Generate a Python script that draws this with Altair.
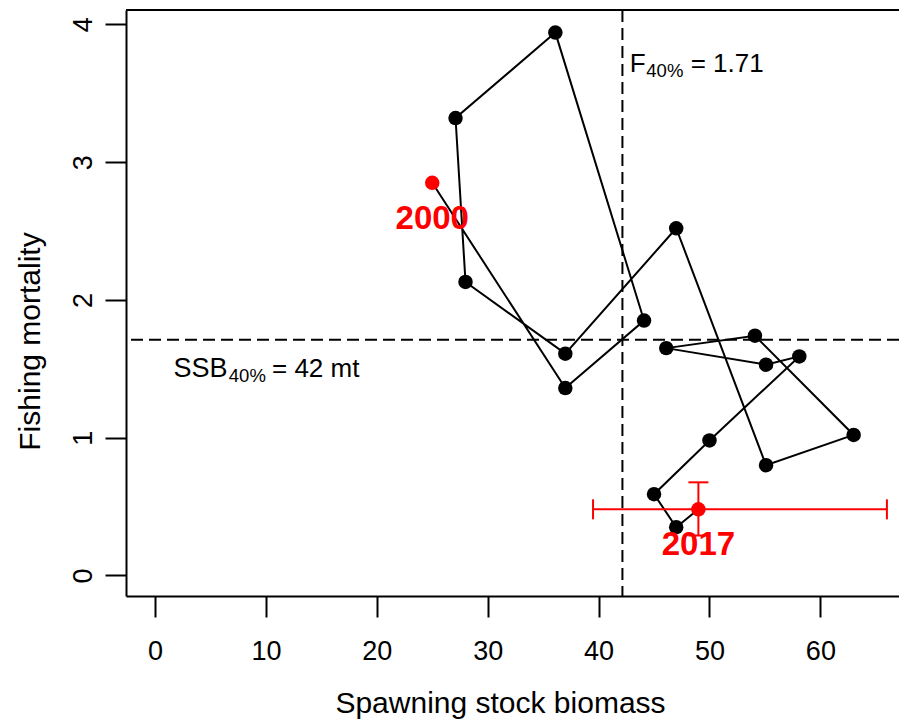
import altair as alt
import pandas as pd

# ---- data ----
years = list(range(2000, 2018))
ssb = [25.0, 37.0, 44.1, 36.1, 27.1, 28.0, 37.0, 47.0, 55.1, 63.0,
       54.1, 46.1, 55.1, 58.1, 50.0, 45.0, 47.0, 49.0]
fmort = [2.85, 1.36, 1.85, 3.94, 3.32, 2.13, 1.61, 2.52, 0.80, 1.02,
         1.74, 1.65, 1.53, 1.59, 0.98, 0.59, 0.35, 0.48]

ssb_last_lo, ssb_last_hi = 39.5, 66.0
f_last_lo, f_last_hi = 0.29, 0.676

ssb40 = 42.15
f40 = 1.71
ssb40_label = 42

x_ticks = [0, 10, 20, 30, 40, 50, 60]
y_ticks = [0, 1, 2, 3, 4]

FONT = "Liberation Sans"
W, H = 773, 586

xscale = alt.Scale(domain=[-2.615, 67.09], nice=False, zero=False)
yscale = alt.Scale(domain=[-0.149, 4.104], nice=False, zero=False)

xaxis = alt.Axis(values=x_ticks, format="d", grid=False, tickSize=21, tickWidth=2,
                 tickColor="black", domainColor="black", domainWidth=2,
                 labelFont=FONT, labelFontSize=27, labelColor="black",
                 labelBaseline="alphabetic", labelPadding=42, labelFlush=False,
                 labelOverlap=False, title="Spawning stock biomass", titleFont=FONT,
                 titleFontSize=30, titleFontWeight="normal", titleColor="black",
                 titleX=374, titleY=116.7, titleAlign="center", titleBaseline="alphabetic")
yaxis = alt.Axis(values=y_ticks, format="d", grid=False, tickSize=21, tickWidth=2,
                 tickColor="black", domainColor="black", domainWidth=2,
                 labelFont=FONT, labelFontSize=27, labelColor="black", labelAngle=270,
                 labelAlign="center", labelBaseline="alphabetic", labelPadding=13.3,
                 labelFlush=False, labelOverlap=False,
                 title="Fishing mortality", titleFont=FONT, titleFontSize=30,
                 titleFontWeight="normal", titleColor="black", titleAngle=270,
                 titleX=-86.7, titleY=331, titleAlign="center", titleBaseline="alphabetic")


def X(field):
    return alt.X(f"{field}:Q", scale=xscale, axis=xaxis)


def Y(field):
    return alt.Y(f"{field}:Q", scale=yscale, axis=yaxis)


df = pd.DataFrame({"year": years, "ssb": ssb, "f": fmort})
df["label"] = df["year"].astype(str)
ends = df[df["year"].isin([years[0], years[-1]])]

eb = pd.DataFrame({"ssb": [ssb[-1]], "f": [fmort[-1]],
                   "ssb_lo": [ssb_last_lo], "ssb_hi": [ssb_last_hi],
                   "f_lo": [f_last_lo], "f_hi": [f_last_hi]})

# reference lines
vline = alt.Chart(pd.DataFrame({"ssb": [ssb40]})).mark_rule(
    color="black", strokeWidth=2, strokeDash=[12, 6]).encode(x=X("ssb"))
hline = alt.Chart(pd.DataFrame({"f": [f40]})).mark_rule(
    color="black", strokeWidth=2, strokeDash=[12, 6]).encode(y=Y("f"))

# top frame line
top = alt.Chart(pd.DataFrame({"a": [0]})).mark_rule(color="black", strokeWidth=2).encode(
    y=alt.value(0), x=alt.value(0), x2=alt.value(W))

path = alt.Chart(df).mark_line(color="black", strokeWidth=2).encode(
    x=X("ssb"), y=Y("f"), order="year:Q")

# error bars for the last year
ebc = alt.Chart(eb)
eh = ebc.mark_rule(color="red", strokeWidth=2).encode(x=X("ssb_lo"), x2="ssb_hi", y=Y("f"))
ev = ebc.mark_rule(color="red", strokeWidth=2).encode(x=X("ssb"), y=Y("f_lo"), y2="f_hi")
cap_l = ebc.mark_rule(color="red", strokeWidth=2, yOffset=-10, y2Offset=10).encode(
    x=X("ssb_lo"), y=Y("f"), y2="f")
cap_r = ebc.mark_rule(color="red", strokeWidth=2, yOffset=-10, y2Offset=10).encode(
    x=X("ssb_hi"), y=Y("f"), y2="f")
cap_t = ebc.mark_rule(color="red", strokeWidth=2, xOffset=-10, x2Offset=10).encode(
    x=X("ssb"), x2="ssb", y=Y("f_hi"))
cap_b = ebc.mark_rule(color="red", strokeWidth=2, xOffset=-10, x2Offset=10).encode(
    x=X("ssb"), x2="ssb", y=Y("f_lo"))

pts = alt.Chart(df).mark_circle(size=210, opacity=1).encode(
    x=X("ssb"), y=Y("f"),
    color=alt.condition(f"datum.year == {years[0]} || datum.year == {years[-1]}",
                        alt.value("red"), alt.value("black")))

year_txt = alt.Chart(ends).mark_text(font=FONT, fontSize=33, fontWeight="bold", color="red",
                                     align="center", baseline="alphabetic", dy=46).encode(
    x=X("ssb"), y=Y("f"), text="label:N")

# annotation texts
fa = pd.DataFrame({"ssb": [ssb40], "f": [3.656]})
f_main = alt.Chart(fa).mark_text(font=FONT, fontSize=26, align="left", baseline="alphabetic",
                                 dx=7.4, text="F").encode(x=X("ssb"), y=Y("f"))
f_sub = alt.Chart(fa).mark_text(font=FONT, fontSize=18.5, align="left", baseline="alphabetic",
                                dx=23.9, dy=5.5, text="40%").encode(x=X("ssb"), y=Y("f"))
f_rest = alt.Chart(fa).mark_text(font=FONT, fontSize=26, align="left", baseline="alphabetic",
                                 dx=68.2, text=f"= {f40}").encode(x=X("ssb"), y=Y("f"))

sa = pd.DataFrame({"ssb": [0.0], "f": [1.443]})
s_main = alt.Chart(sa).mark_text(font=FONT, fontSize=27, align="left", baseline="alphabetic",
                                 dx=18.5, text="SSB").encode(x=X("ssb"), y=Y("f"))
s_sub = alt.Chart(sa).mark_text(font=FONT, fontSize=18.5, align="left", baseline="alphabetic",
                                dx=73.8, dy=5.5, text="40%").encode(x=X("ssb"), y=Y("f"))
s_rest = alt.Chart(sa).mark_text(font=FONT, fontSize=26, align="left", baseline="alphabetic",
                                 dx=117, text=f"= {ssb40_label} mt").encode(x=X("ssb"), y=Y("f"))

chart = alt.layer(
    vline, hline, top, path, eh, ev, cap_l, cap_r, cap_t, cap_b, pts, year_txt,
    f_main, f_sub, f_rest, s_main, s_sub, s_rest
).properties(
    width=W, height=H,
    autosize=alt.AutoSizeParams(type="none"),
    padding={"left": 118, "top": 2, "right": 0, "bottom": 124},
    background="white",
).configure_view(stroke=None)

chart.save("out.html", embed_options={"renderer": "svg", "actions": False})
